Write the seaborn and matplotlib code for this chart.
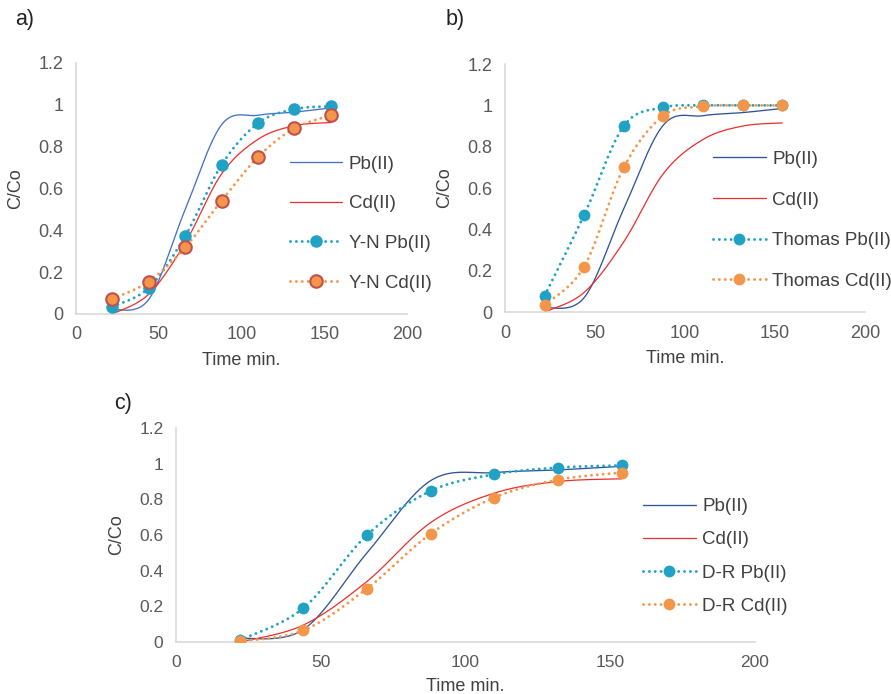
import numpy as np
import matplotlib
matplotlib.use("Agg")
import matplotlib.pyplot as plt
from matplotlib.lines import Line2D
import seaborn as sns

# sampling times (min)
time = [22, 44, 66, 88, 110, 132, 154]

# experimental breakthrough data
exp_pb = [0.02, 0.07, 0.50, 0.905, 0.95, 0.965, 0.985]
exp_cd = [0.0, 0.095, 0.34, 0.67, 0.835, 0.90, 0.915]

# model fits
yn_pb = [0.035, 0.125, 0.373, 0.713, 0.912, 0.979, 0.993]
yn_cd = [0.072, 0.155, 0.319, 0.542, 0.751, 0.888, 0.949]
thomas_pb = [0.079, 0.47, 0.90, 0.99, 1.0, 1.0, 1.0]
thomas_cd = [0.034, 0.22, 0.70, 0.95, 0.995, 1.0, 1.0]
dr_pb = [0.01, 0.19, 0.60, 0.847, 0.94, 0.978, 0.99]
dr_cd = [0.004, 0.065, 0.30, 0.607, 0.81, 0.91, 0.95]

xticks = [0, 50, 100, 150, 200]
yticks = [0, 0.2, 0.4, 0.6, 0.8, 1.0, 1.2]
yticklabels = ["0", "0.2", "0.4", "0.6", "0.8", "1", "1.2"]

TEAL = "#21A2C4"
ORANGE = "#F39649"
RED = "#EE2C2C"


def smooth(x, y, n=40):
    # excel style smoothed line (bezier through the points)
    pts = np.column_stack([x, y]).astype(float)
    P = np.vstack([pts[0], pts, pts[-1]])
    t = np.linspace(0, 1, n)[:, None]
    segs = []
    for i in range(1, len(P) - 2):
        p0, p1, p2, p3 = P[i - 1], P[i], P[i + 1], P[i + 2]
        c1 = p1 + (p2 - p0) / 6
        c2 = p2 - (p3 - p1) / 6
        segs.append((1 - t) ** 3 * p1 + 3 * (1 - t) ** 2 * t * c1
                    + 3 * (1 - t) * t ** 2 * c2 + t ** 3 * p2)
    s = np.vstack(segs)
    return s[:, 0], s[:, 1]


sns.set_theme(style="white")
plt.rcParams["font.family"] = ["Liberation Sans", "DejaVu Sans"]

fig = plt.figure(figsize=(8.91, 6.94), dpi=100)
ax_a = fig.add_axes([0.0853, 0.5476, 0.3715, 0.3617])
ax_b = fig.add_axes([0.5668, 0.5504, 0.4040, 0.3573])
ax_c = fig.add_axes([0.1975, 0.0749, 0.6498, 0.3084])

dot = (0, (0.01, 2.0))


def draw_panel(ax, pb_color, model_pb, model_cd, name, msize, cd_edge, leg_xy, spacing, tick_fs):
    sx, sy = smooth(time, exp_pb)
    sns.lineplot(x=sx, y=sy, ax=ax, color=pb_color, lw=0.95, sort=False, estimator=None)
    sx, sy = smooth(time, exp_cd)
    sns.lineplot(x=sx, y=sy, ax=ax, color=RED, lw=0.9, sort=False, estimator=None)

    for vals, col, edge in [(model_pb, TEAL, TEAL), (model_cd, ORANGE, cd_edge)]:
        sx, sy = smooth(time, vals)
        ax.plot(sx, sy, color=col, lw=2.1, linestyle=dot, dash_capstyle="round")
        sns.scatterplot(x=time, y=vals, ax=ax, color=col, s=msize ** 2,
                        edgecolor=edge, linewidth=1.5 if edge != col else 0, zorder=4)

    ax.set_xlim(0, 200)
    ax.set_ylim(0, 1.2)
    ax.set_xticks(xticks)
    ax.set_yticks(yticks)
    ax.set_yticklabels(yticklabels)
    ax.tick_params(length=0, pad=9, labelsize=tick_fs, labelcolor="#595959")
    for sp in ["top", "right"]:
        ax.spines[sp].set_visible(False)
    for sp in ["left", "bottom"]:
        ax.spines[sp].set_color("#D9D9D9")
        ax.spines[sp].set_linewidth(1.2)
    ax.set_xlabel("Time min.", fontsize=13, color="#404040", labelpad=6)
    ax.set_ylabel("C/Co", fontsize=13, color="#404040", labelpad=10)

    handles = [
        Line2D([], [], color=pb_color, lw=0.95),
        Line2D([], [], color=RED, lw=0.9),
        Line2D([], [], color=TEAL, lw=2.1, linestyle=dot, dash_capstyle="round",
               marker="o", markersize=msize, markeredgewidth=0),
        Line2D([], [], color=ORANGE, lw=2.1, linestyle=dot, dash_capstyle="round",
               marker="o", markersize=msize, markeredgecolor=cd_edge,
               markeredgewidth=1.5 if cd_edge != ORANGE else 0),
    ]
    labels = ["Pb(II)", "Cd(II)", f"{name} Pb(II)", f"{name} Cd(II)"]
    leg = ax.legend(handles, labels, loc="center left", bbox_to_anchor=leg_xy,
                    frameon=False, fontsize=13.5, handlelength=2.8, handletextpad=0.35,
                    labelspacing=spacing, borderpad=0, borderaxespad=0, numpoints=1)
    for t in leg.get_texts():
        t.set_color("#404040")


draw_panel(ax_a, "#4472C4", yn_pb, yn_cd, "Y-N", 9, "#C0504D", (0.645, 0.36), 1.2, 13)
draw_panel(ax_b, "#2F5597", thomas_pb, thomas_cd, "Thomas", 8.5, ORANGE, (0.578, 0.37), 1.25, 13)
draw_panel(ax_c, "#2F5597", dr_pb, dr_cd, "D-R", 8.5, ORANGE, (0.807, 0.40), 0.85, 12.5)

fig.text(25 / 891, 1 - 20 / 694, "a)", fontsize=15.5, ha="center", va="center", color="#222222")
fig.text(455 / 891, 1 - 20 / 694, "b)", fontsize=15.5, ha="center", va="center", color="#222222")
fig.text(123 / 891, 1 - 403 / 694, "c)", fontsize=15.5, ha="center", va="center", color="#222222")

fig.savefig("out.png", dpi=100)
